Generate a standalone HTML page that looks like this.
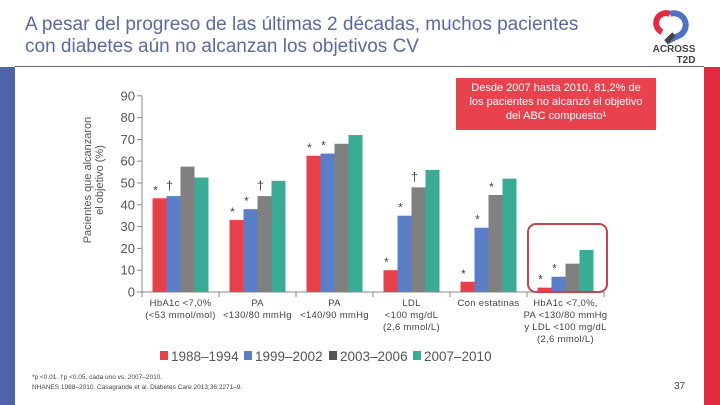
<!DOCTYPE html>
<html><head><meta charset="utf-8">
<style>
body{margin:0;width:720px;height:405px;overflow:hidden;background:#fff;font-family:"Liberation Sans",sans-serif;position:relative}
.title{position:absolute;left:25px;top:14px;font-size:19px;line-height:22px;color:#5a6a9c}
</style></head><body>
<div class="title">A pesar del progreso de las últimas 2 décadas, muchos pacientes<br>con diabetes aún no alcanzan los objetivos CV</div>
<div style="position:absolute;left:0;top:67px;width:15px;height:338px;background:#4f63a8"></div>
<div style="position:absolute;left:704px;top:67px;width:16px;height:338px;background:#e22a40"></div>
<div style="position:absolute;left:15px;top:66px;width:689px;height:1px;background:#666"></div>
<svg style="position:absolute;left:648px;top:8px" width="52" height="56">
<path d="M22 6 A9 9 0 1 0 14 24" fill="none" stroke="#e22a40" stroke-width="6"/>
<path d="M22 6 A10 10 0 1 1 30 28 L18 34" fill="none" stroke="#4f6fc0" stroke-width="6"/>
<path d="M18 34 L26 26" stroke="#444" stroke-width="5"/>
<text x="26" y="44" font-size="10" font-weight="bold" fill="#444" text-anchor="middle">ACROSS</text>
<text x="38" y="55" font-size="10" font-weight="bold" fill="#444" text-anchor="middle">T2D</text>
</svg>
<svg id="chart" style="position:absolute;left:0;top:0" width="720" height="405"></svg>
<script>
const categories=[["HbA1c <7,0%","(<53 mmol/mol)"],["PA","<130/80 mmHg"],["PA","<140/90 mmHg"],["LDL","<100 mg/dL","(2,6 mmol/L)"],["Con estatinas"],["HbA1c <7,0%,","PA <130/80 mmHg","y LDL <100 mg/dL","(2,6 mmol/L)"]];
const s1988=[43,33,62.5,10,4.7,2];
const s1999=[44,38,63.5,35,29.5,7];
const s2003=[57.5,44,68,48,44.5,13];
const s2007=[52.5,51,72,56,52,19.3];
const marks1988=["*","*","*","*","*","*"];
const marks1999=["†","*","*","*","*","*"];
const marks2003=["","†","","†","*",""];
const seriesNames=["1988–1994","1999–2002","2003–2006","2007–2010"];
const yTicks=[0,10,20,30,40,50,60,70,80,90];
const colors=["#e8404a","#5b7fc7","#808080","#3aab94"];
const svg=document.getElementById('chart');
const NS="http://www.w3.org/2000/svg";
const x0=142,gw=77,y0=292,ppu=21.8/10,bw=14;
function Y(v){return y0-v*ppu}
function gx(i){return x0+i*gw}
function el(t,a,txt){const e=document.createElementNS(NS,t);for(const k in a)e.setAttribute(k,a[k]);if(txt!==undefined)e.textContent=txt;svg.appendChild(e);return e}
// axes
let ax=el('line',{x1:x0,y1:Y(90),x2:x0,y2:y0,stroke:'#888'});

let bx=el('line',{x1:x0,y1:y0,x2:gx(6),y2:y0,stroke:'#888'});

yTicks.forEach(t=>{
 el('line',{x1:x0-5,y1:Y(t),x2:x0,y2:Y(t),stroke:'#888'});
 const tx=el('text',{x:x0-7,y:Y(t)+4.5,'font-size':13,fill:'#555','text-anchor':'end'},t);
 
});
for(let i=0;i<=6;i++)el('line',{x1:gx(i),y1:y0,x2:gx(i),y2:y0+5,stroke:'#888'});
const series=[s1988,s1999,s2003,s2007];
const marks=[marks1988,marks1999,marks2003];
categories.forEach((c,i)=>{
 series.forEach((s,j)=>{
  const x=gx(i)+10.5+j*bw;
  const r=el('rect',{x:x,y:Y(s[i]),width:bw,height:s[i]*ppu,fill:colors[j]});
  
  
  if(j<3&&marks[j][i]){
   const m=el('text',{x:x+bw/2-4,y:Y(s[i])-(marks[j][i]=="*"?4:6),'font-size':marks[j][i]=="*"?12:13,fill:'#444','text-anchor':'middle'},marks[j][i]);
   
  }
 });
 c.forEach((l,k)=>{
  const t=el('text',{x:gx(i)+gw/2,y:y0+14+k*12,'font-size':9.5,fill:'#444','text-anchor':'middle','letter-spacing':'0.3'},l);
  
 });
});
const hb=el('rect',{x:528,y:224,width:79,height:68,rx:8,fill:'none',stroke:'#c8414f','stroke-width':2});

const yt=el('text',{transform:'translate(91,180) rotate(-90)','font-size':11,fill:'#555','text-anchor':'middle'});

yt.innerHTML='<tspan x="0" y="0">Pacientes que alcanzaron</tspan><tspan x="0" y="12">el objetivo (%)</tspan>';
// legend
const lx=[160,244,329,413];
seriesNames.forEach((n,j)=>{
 const r=el('rect',{x:lx[j],y:351,width:8,height:9,fill:j==2?'#555':colors[j]});
 
 const t=el('text',{x:lx[j]+11,y:361,'font-size':13.5,fill:'#555'},n);
 
});
</script>
<div style="position:absolute;left:456px;top:78px;width:200px;height:52px;background:#e8424f;color:#fff;font-size:11px;line-height:14px;text-align:center;padding-top:3px;box-sizing:border-box">Desde 2007 hasta 2010, 81,2% de<br>los pacientes no alcanzó el objetivo<br>del ABC compuesto¹</div>
<div style="position:absolute;left:32px;top:373px;font-size:6.5px;line-height:10px;color:#444">*p &lt;0.01. †p &lt;0.05. cada uno vs. 2007–2010.<br>NHANES 1988–2010. Casagrande et al. Diabetes Care 2013;36:2271–9.</div>
<div style="position:absolute;left:674px;top:381px;font-size:10px;color:#444">37</div>
</body></html>
